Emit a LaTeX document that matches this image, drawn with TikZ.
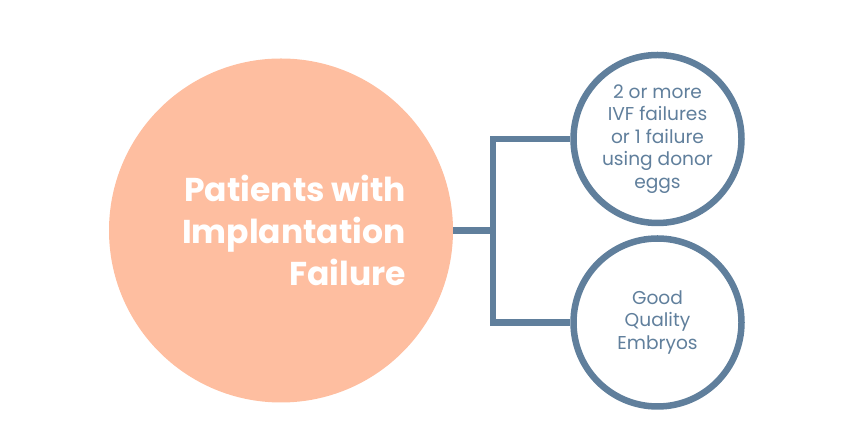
\documentclass[tikz,border=0pt]{standalone}
\usepackage{fontspec}
\setmainfont{Poppins}
\usepackage{tikz}
\definecolor{peach}{HTML}{FEBEA0}
\definecolor{slate}{HTML}{607F9C}
\tikzset{
    bigdot/.style={circle, inner sep=0mm, draw=none, fill=peach, minimum size=344pt},
    ring/.style={circle, inner sep=0mm, draw=slate, line width=6.5pt, fill=white, minimum size=168pt},
    ringtext/.style={align=center, text=slate, font=\fontsize{18.6}{22.5}\selectfont},
    link/.style={draw=slate, line width=6.5pt, line join=miter}
}

\begin{document}
\begin{tikzpicture}[x=1pt, y=1pt]
        \useasboundingbox (0,0) rectangle (841,438);
        \node (pat) [bigdot] at (281, 207.5) {};
        \node (pattxt) [anchor=east, inner sep=0pt, align=right, text=white, font=\fontsize{33}{42}\selectfont\bfseries] at (406, 207.5) {Patients with\\Implantation\\Failure};
        \node (ivf) [ring, ringtext] at (657.5, 299) {2 or more\\IVF failures\\or 1 failure\\using donor\\eggs};
        \node (emb) [ring, ringtext] at (657.5, 115.5) {Good\\Quality\\Embryos};
        \coordinate (fork) at (493, 207.5);
        \begin{scope}[on background layer/.try]
                \draw [link] (pat.east) -- (fork);
                \draw [link] (ivf.west) -| (fork) |- (emb.west);
        \end{scope}
\end{tikzpicture}
\end{document}
